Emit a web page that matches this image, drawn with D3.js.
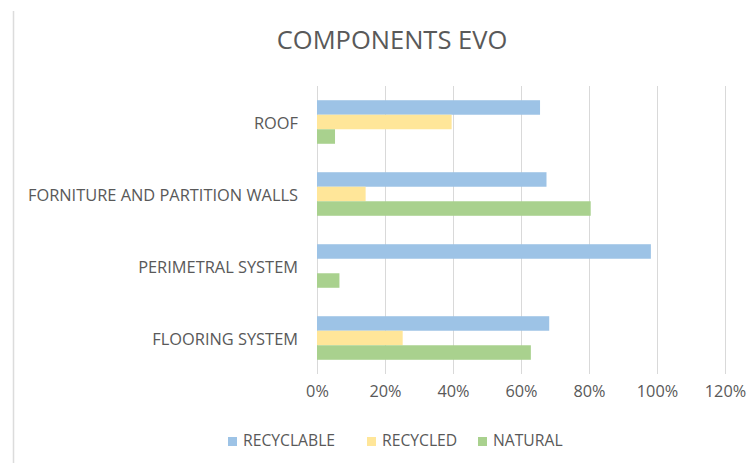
<!DOCTYPE html>
<html><head><meta charset="utf-8">
<script src="https://cdn.jsdelivr.net/npm/d3@7"></script>
<style>body{margin:0;background:#fff}svg{display:block}text{font-family:"Open Sans",sans-serif;fill:#595959}</style>
</head><body><svg id="c" width="756" height="463"></svg>
<script>
const categories = ["ROOF","FORNITURE AND PARTITION WALLS","PERIMETRAL SYSTEM","FLOORING SYSTEM"];
const seriesNames = ["RECYCLABLE","RECYCLED","NATURAL"];
const recyclable = [0.656, 0.675, 0.982, 0.683];
const recycled = [0.396, 0.143, 0, 0.252];
const natural = [0.053, 0.805, 0.066, 0.629];
const tickValues = [0,0.2,0.4,0.6,0.8,1.0,1.2];
const colors = ["#9DC3E6","#FFE699","#A9D18E"];
const values = [recyclable, recycled, natural];

const svg = d3.select("#c");
const m = {l:317, r:725, t:86, b:374};
const x = d3.scaleLinear().domain([0,1.2]).range([m.l,m.r]);
const y = d3.scaleBand().domain(categories).range([m.t,m.b]).paddingInner(0.395).paddingOuter(0.1975);
const y1 = d3.scaleBand().domain(seriesNames).range([0,y.bandwidth()]);

svg.append("line").attr("x1",13.5).attr("x2",13.5).attr("y1",11).attr("y2",463).attr("stroke","#dcdcdc").attr("stroke-width",1.5);

svg.append("text").attr("x",392).attr("y",49).attr("text-anchor","middle").attr("font-size",25.5).text("COMPONENTS EVO");

// gridlines
svg.append("g").selectAll("line").data(tickValues).join("line")
  .attr("x1",d=>Math.round(x(d))+0.5).attr("x2",d=>Math.round(x(d))+0.5)
  .attr("y1",m.t).attr("y2",m.b).attr("stroke","#d9d9d9").attr("stroke-width",1);

// bars
const g = svg.append("g");
categories.forEach((c,i)=>{
  seriesNames.forEach((s,j)=>{
    const v = values[j][i];
    if(v<=0) return;
    g.append("rect").attr("x",x(0)).attr("y",y(c)+y1(s)).attr("width",x(v)-x(0)).attr("height",y1.bandwidth()).attr("fill",colors[j]);
  });
});

// axes
const xa = d3.axisBottom(x).tickValues(tickValues).tickFormat(d3.format(".0%")).tickSize(0).tickPadding(11.5);
const xg = svg.append("g").attr("transform",`translate(0,${m.b})`).call(xa);
xg.select(".domain").remove();
xg.selectAll("text").attr("font-size",16.3).attr("font-family","'Open Sans',sans-serif").attr("fill","#595959");

const ya = d3.axisLeft(y).tickSize(0).tickPadding(19);
const yg = svg.append("g").attr("transform",`translate(${m.l},0)`).call(ya);
yg.select(".domain").remove();
yg.selectAll("text").attr("font-size",16.4).attr("dy","0.45em").attr("font-family","'Open Sans',sans-serif").attr("fill","#595959");

// legend
const legX = [228, 367, 478];
const lg = svg.append("g");
seriesNames.forEach((s,j)=>{
  lg.append("rect").attr("x",legX[j]).attr("y",437).attr("width",9).attr("height",9).attr("fill",colors[j]);
  lg.append("text").attr("x",legX[j]+15).attr("y",446).attr("font-size",15.7).text(s);
});
</script></body></html>
